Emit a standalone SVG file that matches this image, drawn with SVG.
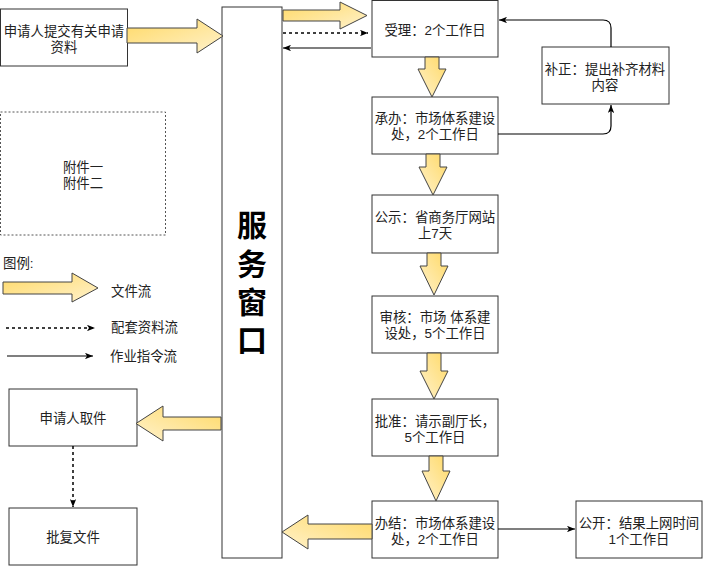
<svg xmlns="http://www.w3.org/2000/svg" width="703" height="566" viewBox="0 0 703 566">
<defs>
<linearGradient id="gR" x1="0" y1="0" x2="1" y2="1"><stop offset="0" stop-color="#ffd966"/><stop offset="1" stop-color="#fff2cc"/></linearGradient>
<linearGradient id="gL" x1="1" y1="0" x2="0" y2="1"><stop offset="0" stop-color="#ffd966"/><stop offset="1" stop-color="#fff2cc"/></linearGradient>
<marker id="ah" viewBox="0 0 10 8" refX="10" refY="4" markerWidth="8" markerHeight="6.4" orient="auto" markerUnits="userSpaceOnUse">
<path d="M0,0 L10,4 L0,8 L2.5,4 Z" fill="#000"/>
</marker>
<style>
.box{fill:#fff;stroke:#333;stroke-width:1}
.dbox{fill:#fff;stroke:#555;stroke-width:1;stroke-dasharray:2,2}
.t{font-family:"Liberation Sans","Noto Sans CJK SC",sans-serif;font-size:13.4px;fill:#222;text-anchor:middle;dominant-baseline:central}
.tl{font-family:"Liberation Sans","Noto Sans CJK SC",sans-serif;font-size:13.4px;fill:#222;dominant-baseline:central}
.big{font-family:"Liberation Sans","Noto Sans CJK SC",sans-serif;font-size:30px;font-weight:bold;fill:#000;text-anchor:middle;dominant-baseline:central}
.ba{stroke:#444;stroke-width:1;stroke-linejoin:miter}
.ln{fill:none;stroke:#000;stroke-width:1.2}
.dl{fill:none;stroke:#000;stroke-width:1.5;stroke-dasharray:3,3}
</style>
</defs>

<g id="n-apply">
<rect class="box" x="0.5" y="9" width="127" height="57"/>
<text class="t"><tspan x="64" y="31">申请人提交有关申请</tspan><tspan x="64" y="47">资料</tspan></text>
</g>

<g id="n-window">
<rect class="box" x="222" y="7" width="60" height="551"/>
<text class="big"><tspan x="252" y="225">服</tspan><tspan x="252" y="264">务</tspan><tspan x="252" y="302">窗</tspan><tspan x="252" y="340">口</tspan></text>
</g>

<g id="n-accept">
<rect class="box" x="372" y="0.5" width="126" height="56.5"/>
<text class="t" x="435" y="30">受理：2个工作日</text>
</g>

<g id="n-handle">
<rect class="box" x="372" y="97" width="126" height="57"/>
<text class="t"><tspan x="435" y="118">承办：市场体系建设</tspan><tspan x="435" y="134">处，2个工作日</tspan></text>
</g>

<g id="n-supplement">
<rect class="box" x="542" y="47" width="127" height="57"/>
<text class="t"><tspan x="605" y="69">补正：提出补齐材料</tspan><tspan x="605" y="85">内容</tspan></text>
</g>

<g id="n-publicity">
<rect class="box" x="372" y="195" width="126" height="58"/>
<text class="t"><tspan x="435" y="217">公示：省商务厅网站</tspan><tspan x="435" y="233">上7天</tspan></text>
</g>

<g id="n-review">
<rect class="box" x="372" y="296" width="126" height="57"/>
<text class="t"><tspan x="435" y="317">审核：市场 体系建</tspan><tspan x="435" y="333">设处，5个工作日</tspan></text>
</g>

<g id="n-approve">
<rect class="box" x="372" y="399" width="126" height="57"/>
<text class="t"><tspan x="435" y="421">批准：请示副厅长，</tspan><tspan x="435" y="437">5个工作日</tspan></text>
</g>

<g id="n-finish">
<rect class="box" x="372" y="501" width="126" height="57"/>
<text class="t"><tspan x="435" y="523">办结：市场体系建设</tspan><tspan x="435" y="539">处，2个工作日</tspan></text>
</g>

<g id="n-open">
<rect class="box" x="576" y="501" width="126" height="57"/>
<text class="t"><tspan x="639" y="523">公开：结果上网时间</tspan><tspan x="639" y="539">1个工作日</tspan></text>
</g>

<g id="n-pickup">
<rect class="box" x="9" y="389" width="128" height="57"/>
<text class="t" x="73" y="418">申请人取件</text>
</g>

<g id="n-reply">
<rect class="box" x="9" y="508" width="128" height="57"/>
<text class="t" x="73" y="537">批复文件</text>
</g>

<g id="n-attach">
<rect class="dbox" x="0.5" y="112" width="165" height="123"/>
<text class="t"><tspan x="83" y="167">附件一</tspan><tspan x="83" y="183">附件二</tspan></text>
</g>

<g id="legend">
<text class="tl" x="3" y="263">图例:</text>
<polygon class="ba" fill="url(#gR)" points="3,282 72,282 72,273 98,288 72,302 72,294 3,294"/>
<text class="tl" x="111" y="291">文件流</text>
<line class="dl" x1="6" y1="328" x2="95" y2="328" marker-end="url(#ah)"/>
<text class="tl" x="111" y="327">配套资料流</text>
<line class="ln" x1="7" y1="356" x2="93" y2="356" marker-end="url(#ah)"/>
<text class="tl" x="110" y="356">作业指令流</text>
</g>

<g id="connectors">
<polygon class="ba" fill="url(#gR)" points="127,28 197,28 197,19 223,36 197,53 197,43 127,43"/>
<polygon class="ba" fill="url(#gR)" points="283,10 340,10 340,2 367,15.5 340,29 340,21 283,21"/>
<line class="dl" x1="283" y1="33" x2="368" y2="33" marker-end="url(#ah)"/>
<line class="ln" x1="371" y1="48" x2="283" y2="48" marker-end="url(#ah)"/>
<polygon class="ba" fill="url(#gL)" points="425,57 439,57 439,69 446,69 432,97 418,69 425,69"/>
<polygon class="ba" fill="url(#gL)" points="426,154 440,154 440,167 447,167 433,195 419,167 426,167"/>
<polygon class="ba" fill="url(#gL)" points="427,253 441,253 441,266 448,266 434,295 420,266 427,266"/>
<polygon class="ba" fill="url(#gL)" points="427,353 441,353 441,371 448,371 434,399 420,371 427,371"/>
<polygon class="ba" fill="url(#gL)" points="429,456 443,456 443,471 450,471 436,501 422,471 429,471"/>
<path class="ln" d="M611,47 V28 Q611,20 603,20 H499" marker-end="url(#ah)"/>
<path class="ln" d="M498,134 H603 Q611,134 611,126 V105" marker-end="url(#ah)"/>
<line class="ln" x1="498" y1="529" x2="575" y2="529" marker-end="url(#ah)"/>
<polygon class="ba" fill="url(#gL)" points="372,524 308,524 308,515 282,532 308,549 308,539 372,539"/>
<polygon class="ba" fill="url(#gL)" points="221,417 163,417 163,406 136,423.5 163,441 163,430 221,430"/>
<line class="dl" x1="73" y1="446" x2="73" y2="507" marker-end="url(#ah)"/>
</g>
</svg>
